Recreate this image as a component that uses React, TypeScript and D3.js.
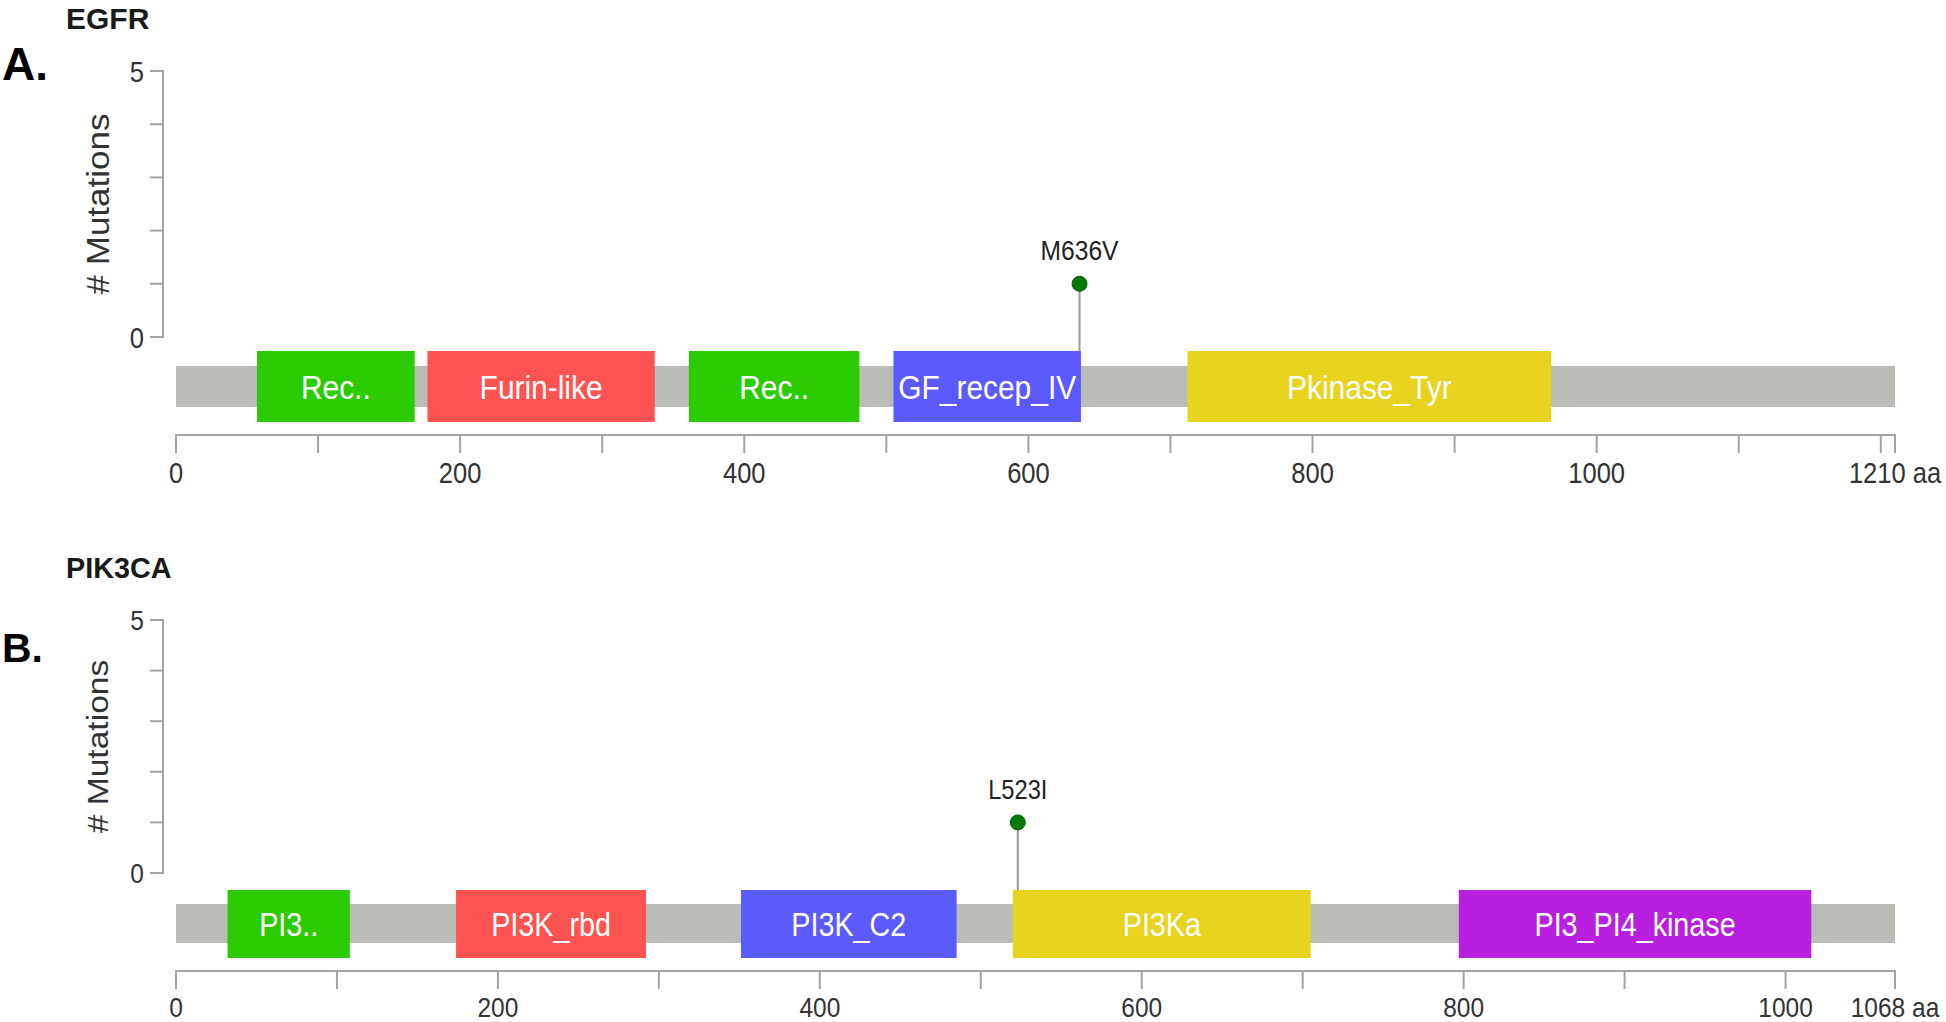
import React from "react";
import * as d3 from "d3";

// ---------- data ----------
const EGFR_LENGTH = 1210;
const egfrDomainNames = ["Rec..", "Furin-like", "Rec..", "GF_recep_IV", "Pkinase_Tyr"];
const egfrDomainStart = [57, 177, 361, 505, 712];
const egfrDomainEnd = [168, 337, 481, 637, 968];
const egfrMutLabels = ["M636V"];
const egfrMutPos = [636];
const egfrMutCount = [1];

const PIK3CA_LENGTH = 1068;
const pikDomainNames = ["PI3..", "PI3K_rbd", "PI3K_C2", "PI3Ka", "PI3_PI4_kinase"];
const pikDomainStart = [32, 174, 351, 520, 797];
const pikDomainEnd = [108, 292, 485, 705, 1016];
const pikMutLabels = ["L523I"];
const pikMutPos = [523];
const pikMutCount = [1];

const yTickValues = [0, 1, 2, 3, 4, 5];
const yTickLabelValues = [0, 5];
const xTickLabelValues = [0, 200, 400, 600, 800, 1000];
const panelGenes = ["EGFR", "PIK3CA"];
const panelLetters = ["A.", "B."];

// ---------- styles ----------
const GREEN = "#2ccc05";
const RED = "#fe5353";
const BLUE = "#5b5bfd";
const YELLOW = "#e8d41e";
const PURPLE = "#b91fdf";
const egfrDomainColors = [GREEN, RED, GREEN, BLUE, YELLOW];
const pikDomainColors = [GREEN, RED, BLUE, YELLOW, PURPLE];
const FONT = "'Liberation Sans', Arial, Helvetica, sans-serif";
const AXIS = "#a3a3a3";
const SX = 0.88; // horizontal compression of the original figure text

type PanelProps = {
  gene: string;
  letter: string;
  length: number;
  names: string[];
  starts: number[];
  ends: number[];
  colors: string[];
  mutLabels: string[];
  mutPos: number[];
  mutCount: number[];
  titleY: number;
  letterY: number;
  letterSize: number;
  yTop: number;
  yBottom: number;
  barTop: number;
  barBottom: number;
  domTop: number;
  domBottom: number;
  axisY: number;
  fs: number;
};

function SText(props: {
  x: number;
  y: number;
  size: number;
  anchor?: string;
  fill?: string;
  rotate?: number;
  children: React.ReactNode;
}) {
  const { x, y, size, anchor = "middle", fill = "#333", rotate = 0, children } = props;
  return (
    <g transform={`translate(${x},${y}) scale(${SX},1) rotate(${rotate})`}>
      <text
        x={0}
        y={0}
        fontFamily={FONT}
        fontSize={size}
        textAnchor={anchor}
        fill={fill}
        dominantBaseline={rotate ? "central" : "alphabetic"}
      >
        {children}
      </text>
    </g>
  );
}

function Panel(p: PanelProps) {
  const x = d3.scaleLinear().domain([0, p.length]).range([176, 1895]);
  const y = d3.scaleLinear().domain([0, 5]).range([p.yBottom, p.yTop]);
  const axisX = 163;
  const yTick = 13;
  const xTick = 18;
  const xTicks = d3.range(0, p.length + 1, 100);
  const domCenter = (p.domTop + p.domBottom) / 2;

  return (
    <g>
      <text x={66} y={p.titleY} fontFamily={FONT} fontWeight="bold" fontSize={30 * p.fs} fill="#1a1a1a">
        {p.gene}
      </text>
      <text x={2} y={p.letterY} fontFamily={FONT} fontWeight="bold" fontSize={p.letterSize} fill="#000">
        {p.letter}
      </text>

      {/* y axis */}
      <path
        d={`M${axisX - yTick},${y(5)}H${axisX}V${y(0)}H${axisX - yTick}`}
        fill="none"
        stroke={AXIS}
        strokeWidth={2}
      />
      {yTickValues.map((v) => (
        <line key={v} x1={axisX - yTick} x2={axisX} y1={y(v)} y2={y(v)} stroke={AXIS} strokeWidth={2} />
      ))}
      {yTickLabelValues.map((v) => (
        <SText key={v} x={axisX - yTick - 6} y={y(v) + 10.5 * p.fs} size={29 * p.fs} anchor="end">
          {v}
        </SText>
      ))}
      <SText x={98} y={(p.yTop + p.yBottom) / 2} size={35 * p.fs} rotate={-90}>
        # Mutations
      </SText>

      {/* protein backbone */}
      <rect
        x={x(0)}
        y={p.barTop}
        width={x(p.length) - x(0)}
        height={p.barBottom - p.barTop}
        fill="#babdb6"
      />

      {/* lollipops */}
      {p.mutPos.map((pos, i) => (
        <g key={i}>
          <line
            x1={x(pos)}
            x2={x(pos)}
            y1={y(p.mutCount[i])}
            y2={p.domTop}
            stroke="#9a9a9a"
            strokeWidth={2}
          />
          <circle cx={x(pos)} cy={y(p.mutCount[i])} r={7.5} fill="#007a00" stroke="#005c00" strokeWidth={1} />
          <SText x={x(pos)} y={y(p.mutCount[i]) - 24 * p.fs} size={28 * p.fs} fill="#222">
            {p.mutLabels[i]}
          </SText>
        </g>
      ))}

      {/* domains */}
      {p.names.map((name, i) => (
        <g key={i}>
          <rect
            x={x(p.starts[i])}
            y={p.domTop}
            width={x(p.ends[i]) - x(p.starts[i])}
            height={p.domBottom - p.domTop}
            fill={p.colors[i]}
          />
          <SText
            x={(x(p.starts[i]) + x(p.ends[i])) / 2}
            y={domCenter + 0.716 * 34 * p.fs * 0.5}
            size={34 * p.fs}
            fill="#ffffff"
          >
            {name}
          </SText>
        </g>
      ))}

      {/* x axis */}
      <path
        d={`M${x(0)},${p.axisY + xTick}V${p.axisY}H${x(p.length)}V${p.axisY + xTick}`}
        fill="none"
        stroke={AXIS}
        strokeWidth={2}
      />
      {xTicks.map((v) => (
        <line key={v} x1={x(v)} x2={x(v)} y1={p.axisY} y2={p.axisY + xTick} stroke={AXIS} strokeWidth={2} />
      ))}
      {xTickLabelValues.map((v) => (
        <SText key={v} x={x(v)} y={p.axisY + 48 * p.fs} size={29 * p.fs}>
          {v}
        </SText>
      ))}
      <SText x={x(p.length)} y={p.axisY + 48 * p.fs} size={29 * p.fs}>
        {`${p.length} aa`}
      </SText>
    </g>
  );
}

export default function App() {
  return (
    <svg
      width={1946}
      height={1022}
      style={{ position: "absolute", left: 0, top: 0, background: "#fff" }}
    >
      <rect x={0} y={0} width={1946} height={1022} fill="#fff" />
      <Panel
        gene={panelGenes[0]}
        letter={panelLetters[0]}
        length={EGFR_LENGTH}
        names={egfrDomainNames}
        starts={egfrDomainStart}
        ends={egfrDomainEnd}
        colors={egfrDomainColors}
        mutLabels={egfrMutLabels}
        mutPos={egfrMutPos}
        mutCount={egfrMutCount}
        titleY={29}
        letterY={80}
        letterSize={46}
        yTop={71}
        yBottom={337}
        barTop={366}
        barBottom={407}
        domTop={351}
        domBottom={422}
        axisY={435}
        fs={1}
      />
      <Panel
        gene={panelGenes[1]}
        letter={panelLetters[1]}
        length={PIK3CA_LENGTH}
        names={pikDomainNames}
        starts={pikDomainStart}
        ends={pikDomainEnd}
        colors={pikDomainColors}
        mutLabels={pikMutLabels}
        mutPos={pikMutPos}
        mutCount={pikMutCount}
        titleY={578}
        letterY={662}
        letterSize={41}
        yTop={620}
        yBottom={873}
        barTop={904}
        barBottom={943}
        domTop={890}
        domBottom={958}
        axisY={971}
        fs={0.96}
      />
    </svg>
  );
}
